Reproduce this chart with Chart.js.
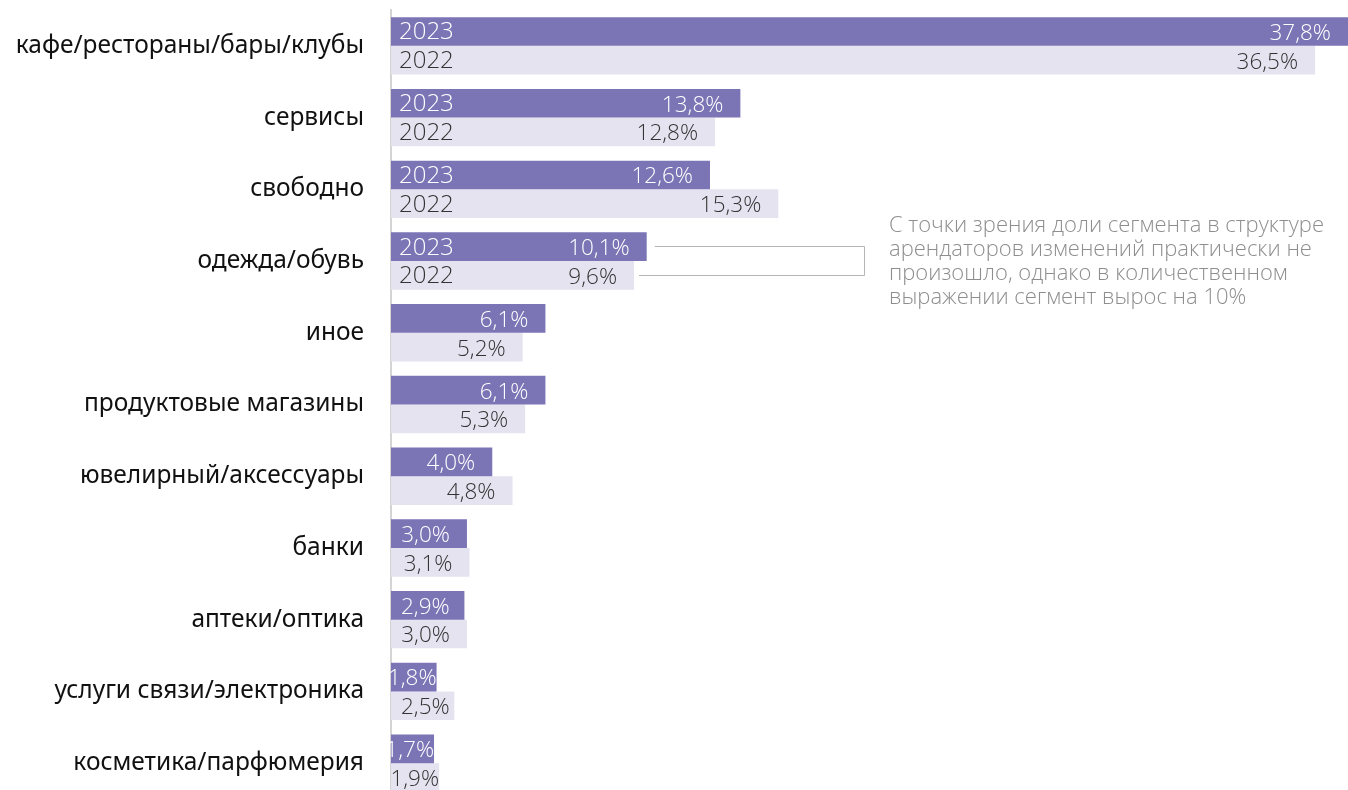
<!DOCTYPE html>
<html lang="ru">
<head>
<meta charset="utf-8">
<title>Структура арендаторов</title>
<script src="https://cdn.jsdelivr.net/npm/chart.js@4/dist/chart.umd.min.js"></script>
<style>
  html, body { margin: 0; padding: 0; background: #fff; overflow: hidden; }
  #wrap { width: 1348px; height: 800px; }
</style>
</head>
<body>
<div id="wrap"><canvas id="chartTenants" width="1348" height="800"></canvas></div>
<script>
// Категории арендаторов и доли по годам, %
const categories = [
  'кафе/рестораны/бары/клубы',
  'сервисы',
  'свободно',
  'одежда/обувь',
  'иное',
  'продуктовые магазины',
  'ювелирный/аксессуары',
  'банки',
  'аптеки/оптика',
  'услуги связи/электроника',
  'косметика/парфюмерия',
];
const years = ['2023', '2022'];
const values2023 = [37.8, 13.8, 12.6, 10.1, 6.1, 6.1, 4.0, 3.0, 2.9, 1.8, 1.7];
const values2022 = [36.5, 12.8, 15.3, 9.6, 5.2, 5.3, 4.8, 3.1, 3.0, 2.5, 1.9];

// подписи годов внутри баров только у первых строк
const yearLabelRows = 4;

// комментарий к строке «одежда/обувь»
const noteRow = 3;
const noteLines = [
  'С точки зрения доли сегмента в структуре',
  'арендаторов изменений практически не',
  'произошло, однако в количественном',
  'выражении сегмент вырос на 10%',
];

const colors = {
  '2023': '#7b75b6',
  '2022': '#e5e3f0',
};
const labelColors = {
  '2023': '#ffffff',
  '2022': '#333333',
};

const LIGHT_FONT = '"Open Sans", "Noto Sans", sans-serif';

function fmt(v) {
  return v.toFixed(1).replace('.', ',') + '%';
}

const barLabels = {
  id: 'barLabels',
  afterDatasetsDraw(chart) {
    const ctx = chart.ctx;
    ctx.save();
    ctx.textBaseline = 'middle';
    chart.data.datasets.forEach((ds, di) => {
      const meta = chart.getDatasetMeta(di);
      meta.data.forEach((bar, i) => {
        ctx.fillStyle = labelColors[ds.label];

        // год у левого края бара
        if (i < yearLabelRows) {
          ctx.font = '300 24px ' + LIGHT_FONT;
          ctx.textAlign = 'left';
          ctx.fillText(ds.label, bar.base + 8, bar.y + 1);
        }

        // значение у правого края, но не левее начала бара
        ctx.font = '300 22.5px ' + LIGHT_FONT;
        const text = fmt(ds.data[i]);
        const w = ctx.measureText(text).width;
        let right = Math.max(bar.x - 17, bar.base + 10 + w);
        right = Math.min(bar.x, right);
        ctx.textAlign = 'right';
        ctx.fillText(text, right, bar.y + 2);
      });
    });
    ctx.restore();
  },
};

const noteCallout = {
  id: 'noteCallout',
  afterDraw(chart) {
    const ctx = chart.ctx;
    const b23 = chart.getDatasetMeta(0).data[noteRow];
    const b22 = chart.getDatasetMeta(1).data[noteRow];
    const bx = 864;

    ctx.save();
    ctx.strokeStyle = '#b5b5b5';
    ctx.lineWidth = 1;
    ctx.beginPath();
    ctx.moveTo(b23.x + 8, Math.round(b23.y) - 0.5);
    ctx.lineTo(bx + 0.5, Math.round(b23.y) - 0.5);
    ctx.lineTo(bx + 0.5, Math.round(b22.y) + 0.5);
    ctx.lineTo(b22.x + 5, Math.round(b22.y) + 0.5);
    ctx.stroke();

    ctx.fillStyle = '#8e8e8e';
    ctx.font = '300 22px ' + LIGHT_FONT;
    ctx.textAlign = 'left';
    ctx.textBaseline = 'alphabetic';
    noteLines.forEach((line, k) => {
      ctx.fillText(line, 889, 232 + k * 24);
    });
    ctx.restore();
  },
};

const ctx = document.getElementById('chartTenants').getContext('2d');
const chartTenants = new Chart(ctx, {
  type: 'bar',
  data: {
    labels: categories,
    datasets: [
      {
        label: years[0],
        data: values2023,
        backgroundColor: colors[years[0]],
      },
      {
        label: years[1],
        data: values2022,
        backgroundColor: colors[years[1]],
      },
    ],
  },
  options: {
    indexAxis: 'y',
    responsive: false,
    animation: false,
    devicePixelRatio: 1,
    categoryPercentage: 0.8,
    barPercentage: 1.0,
    layout: {
      padding: { top: 10, right: 0, bottom: 1, left: 0 },
    },
    plugins: {
      legend: { display: false },
      tooltip: { enabled: false },
    },
    scales: {
      x: {
        min: 0,
        max: 37.8,
        display: false,
      },
      y: {
        grid: { display: false, drawTicks: false },
        border: { display: true, color: '#d4d4d4', width: 2 },
        ticks: {
          color: '#111111',
          padding: 27,
          font: { family: '"Noto Sans", sans-serif', size: 24.5 },
        },
        afterFit(scale) {
          scale.width = 391;
          // без запаса под подписи сверху и снизу
          scale.paddingTop = 0;
          scale.paddingBottom = 0;
        },
      },
    },
  },
  plugins: [barLabels, noteCallout],
});
</script>
</body>
</html>
